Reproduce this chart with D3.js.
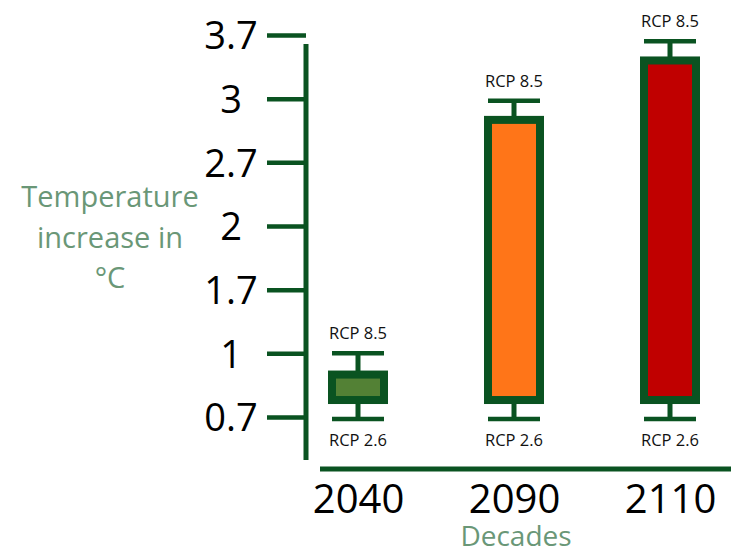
<!DOCTYPE html>
<html>
<head>
<meta charset="utf-8">
<script src="https://cdn.jsdelivr.net/npm/d3@7"></script>
<style>
  body { margin: 0; background: #fff; }
  text { font-family: "Open Sans", sans-serif; }
</style>
</head>
<body>
<div id="chart"></div>
<script>
// data
var decades = ["2040", "2090", "2110"];
var whiskerLow = [0.69, 0.69, 0.69];   // RCP 2.6
var boxLow = [0.78, 0.78, 0.78];
var boxHigh = [0.9, 2.9, 3.42];
var whiskerHigh = [1.0, 2.99, 3.63];   // RCP 8.5
var fills = ["#538135", "#ff7518", "#c00000"];
var tickValues = [0.7, 1, 1.7, 2, 2.7, 3, 3.7];

var w = 731, h = 555;
var green = "#0a5321";
var labelGreen = "#6a9777";

var svg = d3.select("#chart").append("svg")
    .attr("width", w)
    .attr("height", h);

// the tick labels are evenly spaced though the values are not, so a polylinear scale
var yTop = 35, yBottom = 417;
var step = (yBottom - yTop) / (tickValues.length - 1);
var y = d3.scaleLinear()
    .domain(tickValues)
    .range(tickValues.map(function(d, i) { return yBottom - i * step; }));

var x = d3.scalePoint()
    .domain(decades)
    .range([358, 670]);

var axisX = 306;

// y axis
var yAxis = svg.append("g")
    .attr("transform", "translate(" + axisX + ",0)")
    .call(d3.axisLeft(y).tickValues(tickValues).tickSize(39).tickPadding(36)
        .tickFormat(function(d) { return d; }));
yAxis.select(".domain").remove();
yAxis.selectAll(".tick line")
    .attr("stroke", green)
    .attr("stroke-width", 4.5);
yAxis.selectAll(".tick text")
    .attr("text-anchor", "middle")
    .attr("dy", "0.36em")
    .attr("fill", "#000")
    .style("font-size", "38px");

svg.append("line")
    .attr("x1", axisX).attr("x2", axisX)
    .attr("y1", 44).attr("y2", 460)
    .attr("stroke", green)
    .attr("stroke-width", 5);

// x axis
svg.append("line")
    .attr("x1", 320).attr("x2", 731)
    .attr("y1", 469).attr("y2", 469)
    .attr("stroke", green)
    .attr("stroke-width", 5);

var xAxis = svg.append("g")
    .attr("transform", "translate(0,469)")
    .call(d3.axisBottom(x).tickSize(0));
xAxis.select(".domain").remove();
xAxis.selectAll(".tick text")
    .attr("y", 44)
    .attr("dy", 0)
    .attr("fill", "#000")
    .style("font-size", "40px");

// axis titles
svg.append("text")
    .attr("x", 516)
    .attr("y", 546)
    .attr("text-anchor", "middle")
    .attr("fill", labelGreen)
    .style("font-size", "28px")
    .text("Decades");

var ytitle = ["Temperature", "increase in", "°C"];
svg.selectAll(".ytitle")
    .data(ytitle)
    .enter()
    .append("text")
    .attr("class", "ytitle")
    .attr("x", 110)
    .attr("y", function(d, i) { return 207 + i * 40.5; })
    .attr("text-anchor", "middle")
    .attr("fill", labelGreen)
    .style("font-size", "29px")
    .text(function(d) { return d; });

// boxes
var boxW = 52, capW = 52;
var data = decades.map(function(d, i) {
    return {decade: d, lo: whiskerLow[i], q1: boxLow[i], q3: boxHigh[i], hi: whiskerHigh[i], fill: fills[i]};
});

var g = svg.selectAll(".box")
    .data(data)
    .enter()
    .append("g")
    .attr("class", "box");

// stems
g.append("line")
    .attr("x1", function(d) { return x(d.decade); })
    .attr("x2", function(d) { return x(d.decade); })
    .attr("y1", function(d) { return y(d.hi); })
    .attr("y2", function(d) { return y(d.lo); })
    .attr("stroke", green)
    .attr("stroke-width", 5);

// caps
["hi", "lo"].forEach(function(k) {
    g.append("line")
        .attr("x1", function(d) { return x(d.decade) - capW / 2; })
        .attr("x2", function(d) { return x(d.decade) + capW / 2; })
        .attr("y1", function(d) { return y(d[k]); })
        .attr("y2", function(d) { return y(d[k]); })
        .attr("stroke", green)
        .attr("stroke-width", 4.5);
});

g.append("rect")
    .attr("x", function(d) { return x(d.decade) - boxW / 2; })
    .attr("y", function(d) { return y(d.q3); })
    .attr("width", boxW)
    .attr("height", function(d) { return y(d.q1) - y(d.q3); })
    .attr("fill", function(d) { return d.fill; })
    .attr("stroke", green)
    .attr("stroke-width", 8);

// scenario labels
g.append("text")
    .attr("x", function(d) { return x(d.decade); })
    .attr("y", function(d) { return y(d.hi) - 14; })
    .attr("text-anchor", "middle")
    .attr("fill", "#111")
    .style("font-size", "16.5px")
    .text("RCP 8.5");

g.append("text")
    .attr("x", function(d) { return x(d.decade); })
    .attr("y", function(d) { return y(d.lo) + 27; })
    .attr("text-anchor", "middle")
    .attr("fill", "#111")
    .style("font-size", "16.5px")
    .text("RCP 2.6");
</script>
</body>
</html>
